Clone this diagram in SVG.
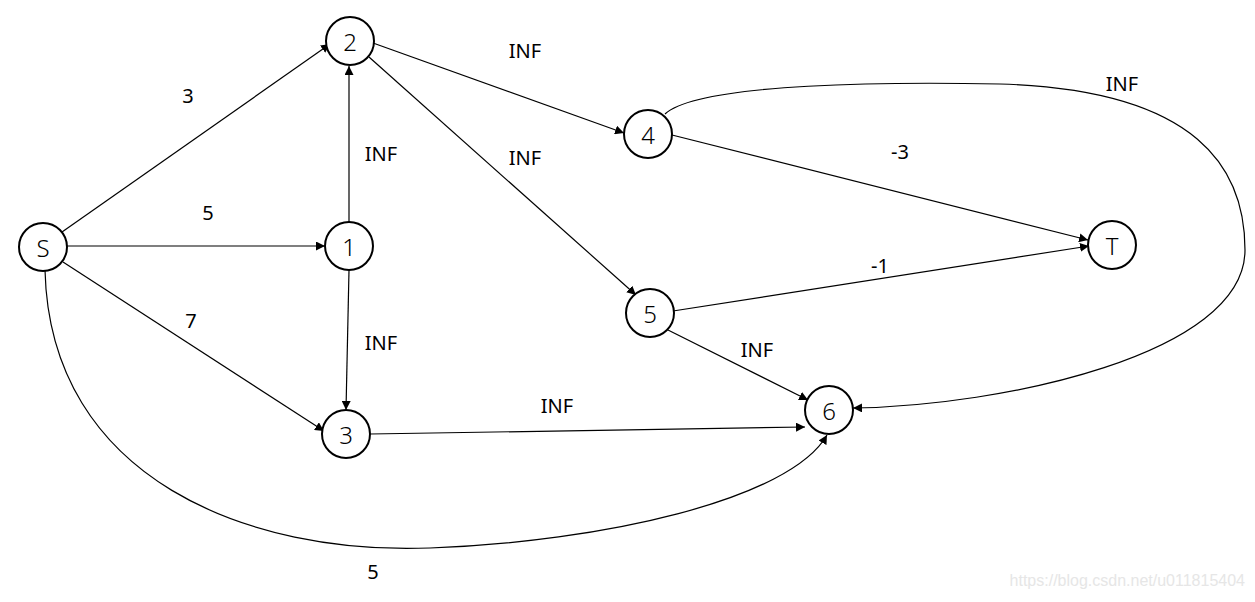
<svg xmlns="http://www.w3.org/2000/svg" width="1255" height="602" viewBox="0 0 1255 602">
<defs>
<marker id="arr" viewBox="0 0 10 10" refX="10" refY="5" markerWidth="9" markerHeight="9" markerUnits="userSpaceOnUse" orient="auto">
<path d="M0,0 L10,5 L0,10 z" fill="#000"/>
</marker>
<style>
.n circle{fill:#fff;stroke:#000;stroke-width:2}
.n text{font-family:"Noto Sans","DejaVu Sans",sans-serif;font-size:24px;font-weight:300;text-anchor:middle;dominant-baseline:central;fill:#000}
.e{fill:none;stroke:#000;stroke-width:1.2;marker-end:url(#arr)}
.l{font-family:"Noto Sans","DejaVu Sans",sans-serif;font-size:20px;text-anchor:middle;dominant-baseline:central;fill:#000}
.w{font-family:"Liberation Sans",Arial,sans-serif;font-size:16px;fill:#e6e6e6;text-anchor:end}
</style>
</defs>
<rect width="1255" height="602" fill="#fff"/>
<g id="connectors">
<line class="e" x1="62" y1="232" x2="330" y2="44"/>
<line class="e" x1="67" y1="246" x2="325" y2="246"/>
<line class="e" x1="63" y1="262" x2="324" y2="431"/>
<path class="e" d="M45,270 C50,480 250,555 430,548 C600,542 790,500 827,435"/>
<line class="e" x1="349" y1="222" x2="349" y2="66"/>
<line class="e" x1="349" y1="270" x2="346" y2="410"/>
<line class="e" x1="373" y1="43" x2="624" y2="133"/>
<line class="e" x1="369" y1="57" x2="636" y2="295"/>
<line class="e" x1="672" y1="135" x2="1088" y2="240"/>
<line class="e" x1="673" y1="311" x2="1089" y2="246"/>
<line class="e" x1="668" y1="330" x2="808" y2="400"/>
<line class="e" x1="370" y1="434" x2="805" y2="427"/>
<path class="e" d="M665,114 C700,82 900,82 1000,84 C1200,90 1245,170 1245,250 C1245,355 1000,406 853,408"/>
</g>
<g id="labels">
<text class="l" x="188" y="95">3</text>
<text class="l" x="208" y="212">5</text>
<text class="l" x="191" y="320">7</text>
<text class="l" x="381" y="153">INF</text>
<text class="l" x="381" y="342">INF</text>
<text class="l" x="525" y="50">INF</text>
<text class="l" x="525" y="157">INF</text>
<text class="l" x="1122" y="83">INF</text>
<text class="l" x="900" y="151">-3</text>
<text class="l" x="880" y="265">-1</text>
<text class="l" x="757" y="349">INF</text>
<text class="l" x="557" y="405">INF</text>
<text class="l" x="373" y="571">5</text>
</g>
<g id="S" class="n"><circle cx="43" cy="247" r="24"/><text x="43" y="247">S</text></g>
<g id="n1" class="n"><circle cx="349" cy="246" r="24"/><text x="349" y="246">1</text></g>
<g id="n2" class="n"><circle cx="350" cy="41" r="24"/><text x="350" y="41">2</text></g>
<g id="n3" class="n"><circle cx="346" cy="434" r="24"/><text x="346" y="434">3</text></g>
<g id="n4" class="n"><circle cx="648" cy="134" r="24"/><text x="648" y="134">4</text></g>
<g id="n5" class="n"><circle cx="650" cy="313" r="24"/><text x="650" y="313">5</text></g>
<g id="n6" class="n"><circle cx="829" cy="410" r="24"/><text x="829" y="410">6</text></g>
<g id="T" class="n"><circle cx="1112" cy="245" r="24"/><text x="1112" y="245">T</text></g>
<text class="w" x="1245" y="586">https://blog.csdn.net/u011815404</text>
</svg>
